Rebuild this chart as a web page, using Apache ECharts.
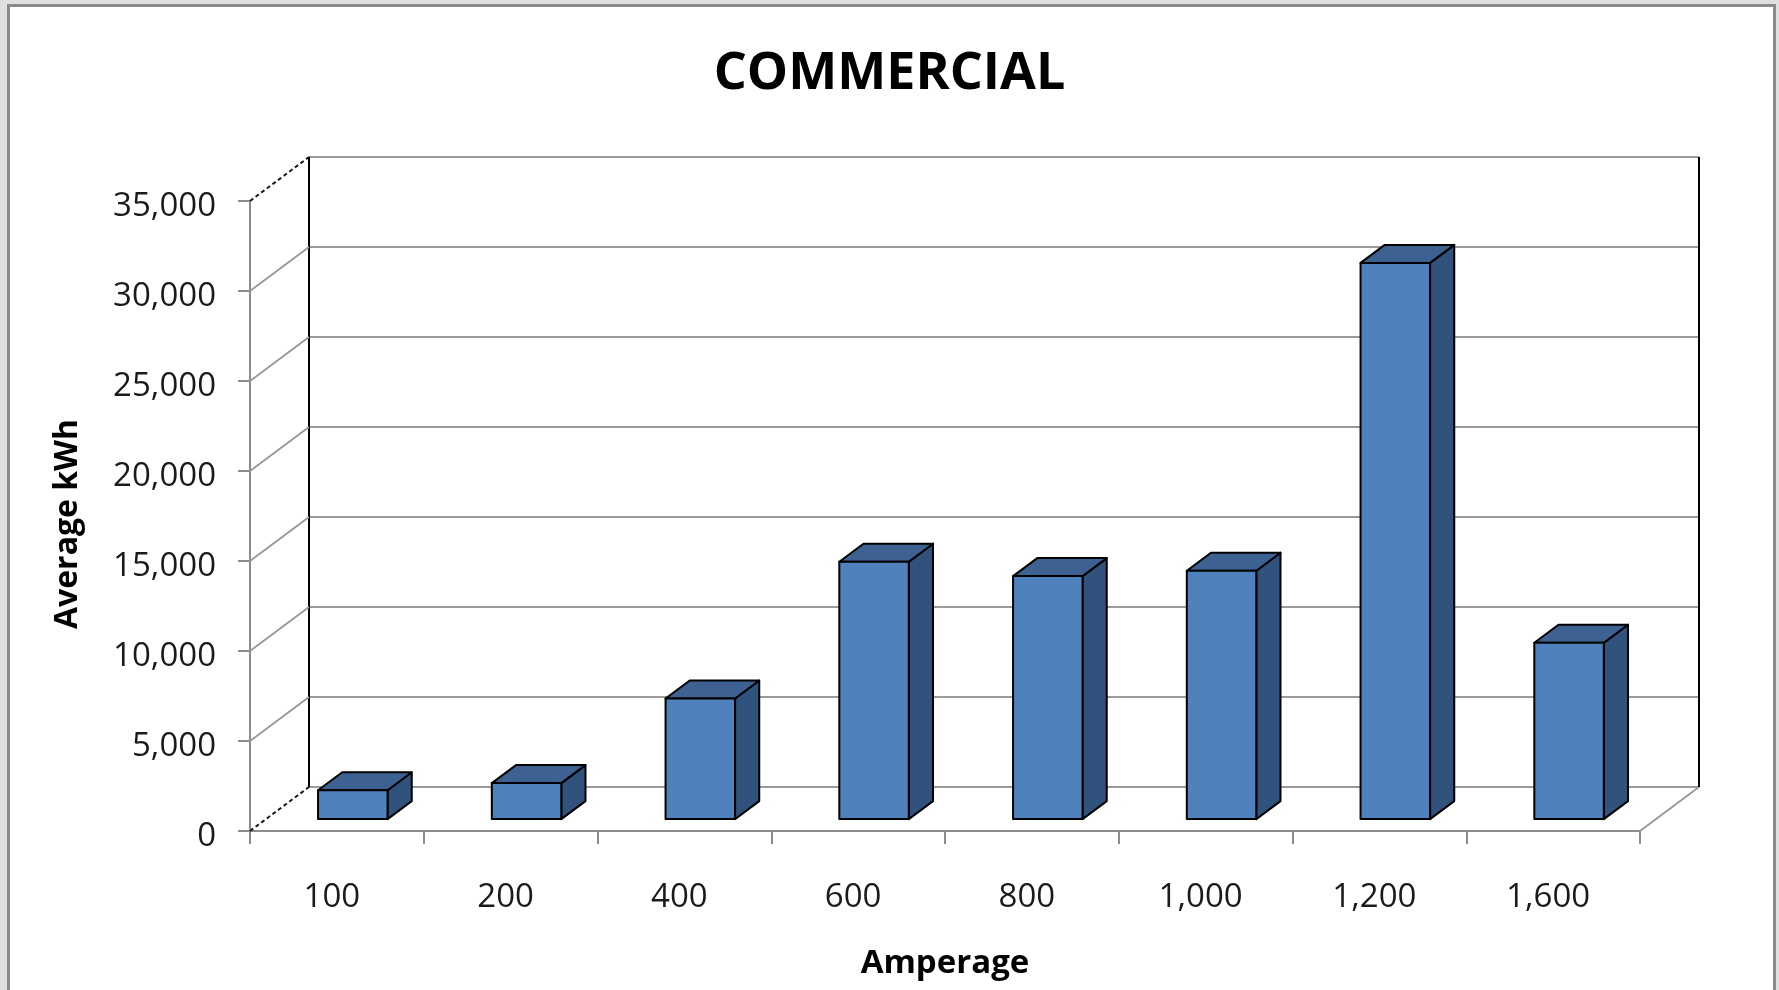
<!DOCTYPE html>
<html>
<head>
<meta charset="utf-8">
<script src="https://cdn.jsdelivr.net/npm/echarts@6/dist/echarts.min.js"></script>
<style>
html,body{margin:0;padding:0;background:#dfdfdf;}
#chart{width:1779px;height:990px;}
</style>
</head>
<body>
<div id="chart"></div>
<script>
// ---- data ----
const chartTitle = 'COMMERCIAL';
const xAxisTitle = 'Amperage';
const yAxisTitle = 'Average kWh';
const categories = ['100', '200', '400', '600', '800', '1,000', '1,200', '1,600'];
const averageKwh = [1600, 2000, 6700, 14300, 13500, 13800, 30900, 9800];
const yTicks = [0, 5000, 10000, 15000, 20000, 25000, 30000, 35000];
const Y_MIN = 0, Y_MAX = 35000, Y_STEP = 5000;

// ---- layout / style ----
const FONT = "'Open Sans', sans-serif";
const FRONT = { left: 250, top: 201, width: 1390, height: 630 };
const DEPTH = { x: 59, y: -44 };
const BACK = { left: FRONT.left + DEPTH.x, top: FRONT.top + DEPTH.y, width: FRONT.width, height: FRONT.height };
const BAR_FRONT = 0.27, BAR_BACK = 0.68, BAR_WIDTH = 0.40;
const GRID_GRAY = '#9a9a9a';
const AXIS_GRAY = '#8c8c8c';

function renderBar(params, api) {
  const i = api.value(0), v = api.value(1);
  const base = api.coord([i, Y_MIN]);
  const top = api.coord([i, v]);
  const band = api.size([1, 0])[0];
  const w = band * BAR_WIDTH;
  const fx = DEPTH.x * BAR_FRONT, fy = DEPTH.y * BAR_FRONT;
  const dx = DEPTH.x * (BAR_BACK - BAR_FRONT), dy = DEPTH.y * (BAR_BACK - BAR_FRONT);
  const L = base[0] - w / 2 + fx, R = base[0] + w / 2 + fx;
  const T = top[1] + fy, B = base[1] + fy;
  const st = (fill) => ({ fill: fill, stroke: '#000', lineWidth: 2, lineJoin: 'round' });
  return {
    type: 'group',
    children: [
      { type: 'polygon', shape: { points: [[R, T], [R + dx, T + dy], [R + dx, B + dy], [R, B]] }, style: st('#31527c') },
      { type: 'polygon', shape: { points: [[L, T], [L + dx, T + dy], [R + dx, T + dy], [R, T]] }, style: st('#3d6291') },
      { type: 'rect', shape: { x: L, y: T, width: R - L, height: B - T }, style: st('#4f81bd') }
    ]
  };
}

function renderWall(params, api) {
  const v = api.value(1);
  const band = api.size([1, 0])[0];
  const p = api.coord([0, v]);
  const xL = p[0] - band / 2;
  const xR = api.coord([categories.length - 1, v])[0] + band / 2;
  const y = p[1];
  const isEdge = (v === Y_MIN || v === Y_MAX);
  const children = [{
    type: 'line',
    shape: { x1: xL, y1: y, x2: xL + DEPTH.x, y2: y + DEPTH.y },
    style: isEdge ? { stroke: '#1a1a1a', lineWidth: 2, lineDash: [4, 3] } : { stroke: GRID_GRAY, lineWidth: 2 }
  }];
  if (v === Y_MIN) {
    const yTop = api.coord([0, Y_MAX])[1];
    children.push({ type: 'line', shape: { x1: xR, y1: y, x2: xR + DEPTH.x, y2: y + DEPTH.y }, style: { stroke: GRID_GRAY, lineWidth: 2 } });
    children.push({ type: 'line', shape: { x1: xL + DEPTH.x, y1: y + DEPTH.y, x2: xL + DEPTH.x, y2: yTop + DEPTH.y }, style: { stroke: '#000', lineWidth: 2 } });
    children.push({ type: 'line', shape: { x1: xR + DEPTH.x, y1: y + DEPTH.y, x2: xR + DEPTH.x, y2: yTop + DEPTH.y }, style: { stroke: '#000', lineWidth: 2 } });
  }
  return { type: 'group', children: children };
}

const fmt = (v) => Number(v).toLocaleString('en-US');

const chart = echarts.init(document.getElementById('chart'));
chart.setOption({
  backgroundColor: '#dfdfdf',
  animation: false,
  graphic: [{
    type: 'rect', z: -100, silent: true,
    shape: { x: 8.5, y: 5.5, width: 1766, height: 1000 },
    style: { fill: '#ffffff', stroke: '#8a8a8a', lineWidth: 3 }
  }],
  title: {
    text: chartTitle, left: 'center', top: 43,
    textStyle: { fontFamily: FONT, fontSize: 52, fontWeight: 'bold', color: '#000' }
  },
  grid: [
    { left: FRONT.left, top: FRONT.top, width: FRONT.width, height: FRONT.height, containLabel: false },
    { left: BACK.left, top: BACK.top, width: BACK.width, height: BACK.height, containLabel: false }
  ],
  xAxis: [{
    gridIndex: 0, type: 'category', data: categories,
    axisLine: { show: true, lineStyle: { color: AXIS_GRAY, width: 2 } },
    axisTick: { show: true, length: 13, lineStyle: { color: AXIS_GRAY, width: 2 } },
    axisLabel: { fontFamily: FONT, fontSize: 33, color: '#1a1a1a', margin: 50, padding: [0, 10, 0, 0] },
    splitLine: { show: false },
    name: xAxisTitle, nameLocation: 'middle', nameGap: 116,
    nameTextStyle: { fontFamily: FONT, fontSize: 33, fontWeight: 'bold', color: '#000' }
  }, {
    gridIndex: 1, type: 'category', data: categories,
    axisLine: { show: false }, axisTick: { show: false }, axisLabel: { show: false }, splitLine: { show: false }
  }],
  yAxis: [{
    gridIndex: 0, type: 'value', min: Y_MIN, max: Y_MAX, interval: Y_STEP,
    axisLine: { show: true, lineStyle: { color: AXIS_GRAY, width: 2 } },
    axisTick: { show: true, length: 12, lineStyle: { color: AXIS_GRAY, width: 2 } },
    axisLabel: { fontFamily: FONT, fontSize: 33, color: '#1a1a1a', margin: 34, verticalAlign: 'top', lineHeight: 12, formatter: fmt },
    splitLine: { show: false },
    name: yAxisTitle, nameLocation: 'middle', nameGap: 166,
    nameTextStyle: { fontFamily: FONT, fontSize: 32, fontWeight: 'bold', color: '#000', padding: [0, 16, 0, 0] }
  }, {
    gridIndex: 1, type: 'value', min: Y_MIN, max: Y_MAX, interval: Y_STEP,
    axisLine: { show: false }, axisTick: { show: false }, axisLabel: { show: false },
    splitLine: { show: true, lineStyle: { color: GRID_GRAY, width: 2 } }
  }],
  series: [{
    type: 'custom', name: 'walls', xAxisIndex: 0, yAxisIndex: 0, z: 1, silent: true,
    renderItem: renderWall, clip: false,
    data: yTicks.map((v) => [0, v]), encode: { x: 0, y: 1 }
  }, {
    type: 'custom', name: yAxisTitle, xAxisIndex: 0, yAxisIndex: 0, z: 3,
    renderItem: renderBar, clip: false,
    data: averageKwh.map((v, i) => [i, v]), encode: { x: 0, y: 1 }
  }]
});
</script>
</body>
</html>
